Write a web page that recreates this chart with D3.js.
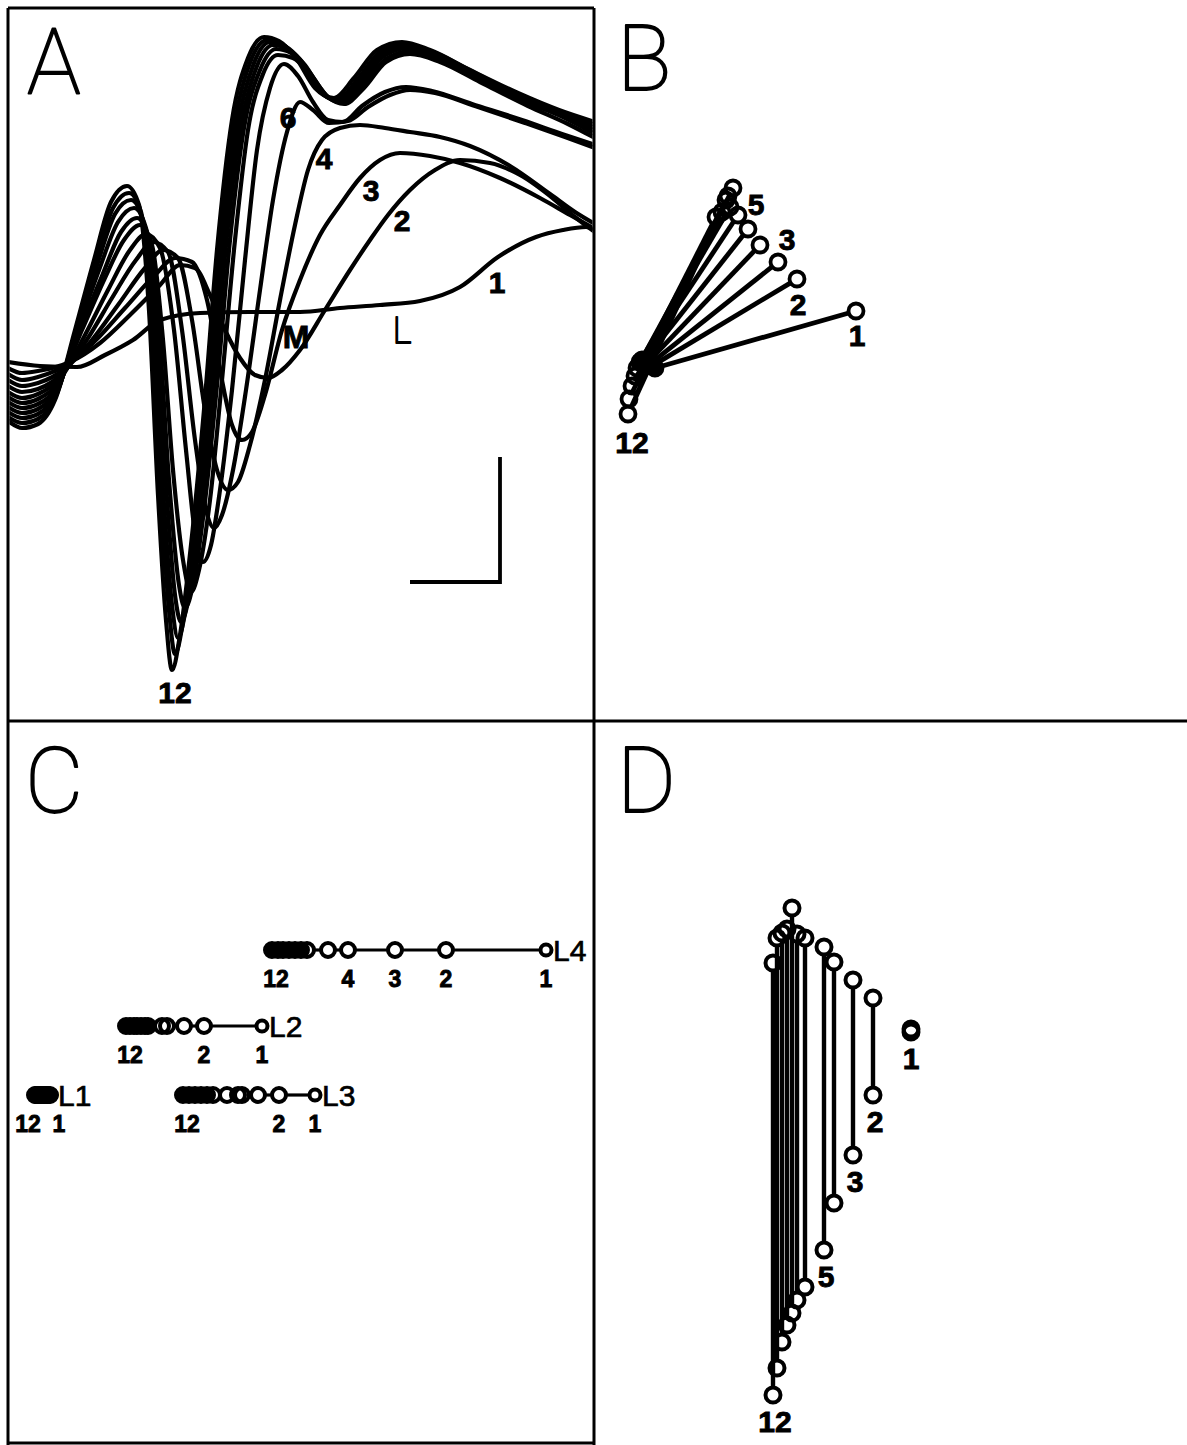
<!DOCTYPE html>
<html>
<head>
<meta charset="utf-8">
<script src="https://cdn.jsdelivr.net/npm/d3@7"></script>
<style>
  html, body { margin: 0; padding: 0; background: #fff; }
  svg { display: block; }
</style>
</head>
<body>
<svg id="fig" width="1187" height="1445"></svg>
<script>
// ---------------- data ----------------
// Response numbers, 1 (first) to 12 (last)
const responses = d3.range(1, 13);

// Panel A: averaged waveforms, [time (ms), amplitude (µV)]
const traceA1 = [[0,0.4],[0.64,-0.4],[1.38,-0.6],[1.94,1.8],[2.5,4.8],[3.04,8.8],[3.84,10.2],[4.84,10.4],[5.84,10.4],[6.64,11.2],[7.44,11.8],[8.24,12.6],[9.04,15.4],[9.8,21.4],[10.56,25.4],[11.1,26.8],[11.56,27.4],[11.74,26.8]];
const traceA2 = [[0,-0.8],[0.28,-1.8],[0.6,-1.4],[1.24,0.4],[1.84,4.2],[2.44,9.8],[3.04,15.8],[3.44,19.8],[3.74,19.2],[4.04,13.8],[4.34,6.8],[4.64,1.2],[4.94,-2.2],[5.2,-2.8],[5.48,-1.2],[5.84,2.8],[6.34,10.8],[6.84,18.8],[7.24,24.8],[7.6,29.8],[8.04,34.8],[8.54,38.8],[9.04,40.8],[9.64,40.2],[10.24,37.8],[10.94,32.8],[11.34,29.4],[11.74,26.4]];
const traceA3 = [[0,-2],[0.28,-3.2],[0.6,-2.6],[1.2,0],[1.76,4.8],[2.34,11.2],[2.94,17.8],[3.34,21.2],[3.68,20.4],[3.98,12.8],[4.24,-1.2],[4.48,-12.2],[4.68,-15.2],[4.88,-13.6],[5.14,-6.2],[5.48,6.8],[5.84,16.8],[6.24,25.8],[6.64,31.8],[7.04,37.2],[7.44,40.8],[7.84,42.2],[8.44,41.6],[9.04,40.2],[9.84,37.2],[10.64,33.2],[11.24,29.8],[11.74,27]];
const traceA4 = [[0,-3.2],[0.28,-4.4],[0.6,-3.8],[1.16,-0.8],[1.68,4.8],[2.2,11.8],[2.74,19.2],[3.1,22.8],[3.4,21.2],[3.68,8.8],[3.94,-9.2],[4.18,-21.2],[4.4,-25.2],[4.6,-23.6],[4.84,-16.2],[5.14,-3.2],[5.44,12.8],[5.74,27.8],[6,38.8],[6.28,44.8],[6.64,47.2],[7.04,47.8],[7.54,47.2],[8.04,46.4],[8.64,45.4],[9.24,43.6],[10.04,39.6],[10.84,34],[11.34,30.4],[11.74,28]];
const traceA5 = [[0,-4.4],[0.28,-5.6],[0.6,-5],[1.12,-1.6],[1.6,5.2],[2.08,13.2],[2.56,20.8],[2.9,24.4],[3.2,22.4],[3.48,6.8],[3.74,-15.2],[3.96,-29.2],[4.12,-32.8],[4.28,-30.2],[4.5,-21.2],[4.76,-5.2],[5.04,14.8],[5.3,32.8],[5.58,46.4],[5.84,52.4],[6.1,50.8],[6.42,48.2],[6.8,48.6],[7.2,51.4],[7.64,53.8],[8.04,54.8],[8.54,54.2],[9.34,51.6],[10.34,48.2],[11.14,45.4],[11.74,43.2]];
const traceA6 = [[0,-5.6],[0.28,-6.8],[0.6,-6],[1.08,-2.4],[1.54,5.8],[2,14.8],[2.44,22.8],[2.76,26],[3.04,23.2],[3.32,6.8],[3.56,-17.2],[3.76,-35.2],[3.9,-39.6],[4.06,-36.2],[4.24,-25.2],[4.48,-5.2],[4.74,20.8],[4.98,42.8],[5.24,55.2],[5.52,60],[5.8,57.6],[6.1,52.4],[6.4,48.8],[6.7,48.4],[7.08,51.6],[7.54,54.4],[7.96,55.4],[8.48,54.6],[9.28,52],[10.28,48.8],[11.08,46],[11.74,43.8]];
const traceA7 = [[0,-6.6],[0.28,-7.8],[0.6,-7],[1.04,-3.2],[1.48,6.8],[1.92,16.8],[2.32,24.8],[2.64,27.8],[2.88,23.8],[3.1,4.8],[3.3,-21.2],[3.5,-39.2],[3.66,-45.6],[3.82,-41.2],[4.04,-27.2],[4.28,-3.2],[4.54,24.8],[4.8,46.8],[5.1,58],[5.4,61.8],[5.7,61.2],[6.04,58],[6.4,53.4],[6.72,52],[7.12,55.2],[7.56,60.4],[8.04,62],[8.64,60.4],[9.44,56.4],[10.4,51.6],[11.2,48],[11.74,45.2]];
const traceA8 = [[0,-7.6],[0.28,-8.8],[0.6,-8],[1.02,-4],[1.44,6.8],[1.88,17.6],[2.26,26.4],[2.58,29.2],[2.82,25.2],[3.02,6.8],[3.22,-23.2],[3.42,-44.2],[3.54,-48.8],[3.7,-44.2],[3.92,-29.2],[4.18,-4.2],[4.44,24.8],[4.72,47.2],[5.04,58.8],[5.36,63],[5.66,62.2],[6,58.8],[6.38,53.6],[6.7,52.2],[7.1,55.8],[7.56,61],[8.06,62.6],[8.64,61],[9.44,57],[10.38,52.4],[11.18,49],[11.74,46]];
const traceA9 = [[0,-8.6],[0.28,-9.8],[0.6,-9],[1,-4.8],[1.4,6.8],[1.82,18.8],[2.2,28.4],[2.52,31.2],[2.76,27.2],[2.96,7.8],[3.16,-24.2],[3.34,-46.2],[3.46,-51.6],[3.62,-46.6],[3.84,-31.2],[4.1,-6.2],[4.36,23.8],[4.66,47.6],[4.98,59.6],[5.3,63.8],[5.6,63],[5.94,59.8],[6.32,54],[6.66,52.4],[7.06,56.2],[7.52,61.6],[8.02,63.2],[8.58,61.6],[9.38,57.6],[10.32,53],[11.14,49.6],[11.74,46.6]];
const traceA10 = [[0,-9.6],[0.28,-10.8],[0.6,-10],[0.98,-5.6],[1.38,6.8],[1.78,19.8],[2.14,30],[2.46,32.8],[2.7,28.8],[2.9,8.8],[3.1,-25.2],[3.28,-48.2],[3.4,-54.8],[3.56,-48.8],[3.78,-32.2],[4.04,-7.2],[4.3,23.8],[4.6,48],[4.92,60.2],[5.24,64.4],[5.54,63.6],[5.88,60.4],[6.26,54.4],[6.62,52.6],[7.02,56.6],[7.48,62],[7.98,63.6],[8.54,62],[9.34,58],[10.28,53.4],[11.1,50],[11.74,47.2]];
const traceA11 = [[0,-10.6],[0.28,-11.8],[0.6,-11],[0.96,-6.4],[1.36,6.8],[1.76,20.4],[2.1,31.2],[2.42,34.2],[2.66,30.4],[2.86,9.8],[3.06,-26.2],[3.22,-49.2],[3.34,-58],[3.5,-51.6],[3.72,-34.2],[3.98,-8.2],[4.24,23.8],[4.54,48.4],[4.86,60.8],[5.18,64.8],[5.48,64],[5.82,60.6],[6.2,54.8],[6.58,52.8],[6.98,56.8],[7.44,62.4],[7.94,64],[8.5,62.4],[9.3,58.4],[10.24,53.8],[11.06,50.4],[11.74,47.8]];
const traceA12 = [[0,-11.4],[0.28,-12.8],[0.6,-12],[0.94,-7.2],[1.34,6.8],[1.72,20.8],[2.06,32.4],[2.38,35.6],[2.62,31.8],[2.82,10.8],[3,-26.2],[3.16,-51.2],[3.28,-61.2],[3.44,-54.2],[3.66,-36.2],[3.92,-9.2],[4.18,22.8],[4.48,48.8],[4.8,61.2],[5.12,65.4],[5.42,64.6],[5.76,61.2],[6.14,55.2],[6.52,53.2],[6.92,57.2],[7.38,62.8],[7.88,64.4],[8.44,62.8],[9.24,58.8],[10.2,54.2],[11.02,50.8],[11.74,48.4]];
const tracesA = [traceA1, traceA2, traceA3, traceA4, traceA5, traceA6,
                 traceA7, traceA8, traceA9, traceA10, traceA11, traceA12];

// Calibration bar (ms, µV) and its corner
const calMs = 1.8, calUv = 25, calCornerT = 9.84, calCornerV = -43.6;

// Trace annotations placed in time/amplitude coordinates
const labelsA = [
  { text: "6", t: 5.6,  v: 49.4 },
  { text: "4", t: 6.32, v: 41.2 },
  { text: "3", t: 7.26, v: 34.8 },
  { text: "2", t: 7.88, v: 28.8 },
  { text: "1", t: 9.78, v: 16.4 }
];
const peakLabelsA = [
  { text: "M", t: 5.76, v: 5.6 },
  { text: "L", t: 7.88, v: 6.8 }
];

// Panel B: vector start (base) and end (tip) points per response
const bBaseX = [12, 11.4, 11, 10.6, 10, 9.4, 9, 8.4, 8, 7.4, 6.8, 6.6];
const bBaseY = [70.4, 70.8, 71.2, 71.6, 72, 72, 71.6, 70.4, 68.8, 66.8, 64.2, 61.2];
const bTipX  = [52.2, 40.4, 36.6, 33, 30.6, 28.6, 27, 25.4, 24.2, 26.2, 27.6, 26.6];
const bTipY  = [81.8, 88.2, 91.6, 95, 98.2, 101, 102.6, 101.6, 100.6, 104, 106.4, 104.8];

// Panel C: positions along each recording row, responses 1..12
const rowNames = ["L4", "L2", "L1", "L3"];
const rowLevels = [99, 83.8, 70, 70];
const cL4 = [107.6, 87.6, 77.4, 68, 64, 59.8, 58.6, 57.4, 56.2, 55, 54, 52.8];
const cL2 = [50.8, 39.2, 35.2, 31.8, 30.8, 28, 27.4, 26.6, 25.8, 25.2, 24.4, 23.6];
const cL1 = [8.6, 8.4, 8, 7.8, 7.4, 7.2, 6.8, 6.6, 6.2, 6, 5.6, 5.4];
const cL3 = [61.4, 54.2, 50, 46.8, 46, 43.8, 41, 39.8, 38.6, 37.4, 36.2, 35];
const rowsC = [cL4, cL2, cL1, cL3];
const rowTicksC = [[12, 4, 3, 2, 1], [12, 2, 1], [12, 1], [12, 2, 1]];

// Panel D: horizontal position, upper and lower values per response
const dX      = [63.2, 55.6, 51.6, 47.8, 45.8, 42, 40.4, 39.4, 38.4, 37.4, 36.4, 35.6];
const dTop    = [83.2, 89.4, 93, 96.6, 99.6, 101.4, 102.2, 107.4, 103.2, 102.4, 101.4, 96.4];
const dBottom = [82.6, 70, 58, 48.4, 39, 31.6, 29, 26.4, 24, 20.6, 15.4, 10];
const dTicks  = [1, 2, 3, 5, 12];

// ---------------- drawing ----------------
const W = 1187, H = 1445;
const svg = d3.select("#fig");
svg.append("rect").attr("width", W).attr("height", H).attr("fill", "#fff");

const INK = "#000";
const numFont = "'Liberation Sans', Arial, Helvetica, sans-serif";
const thinFont = "Roboto, Inter, 'DejaVu Sans', sans-serif";

// panel scales
const xA = d3.scaleLinear().domain([0, 11.74]).range([8, 595]);
const yA = d3.scaleLinear().domain([-71.2, 71.2]).range([720, 8]);
const xB = d3.scaleLinear().domain([0, 118.4]).range([595, 1187]);
const yB = d3.scaleLinear().domain([0, 142.4]).range([720, 8]);
const xC = d3.scaleLinear().domain([0, 117.4]).range([8, 595]);
const yC = d3.scaleLinear().domain([0, 144.6]).range([1445, 722]);
const xD = d3.scaleLinear().domain([0, 118.4]).range([595, 1187]);
const yD = d3.scaleLinear().domain([0, 144.6]).range([1445, 722]);

// segment between two circle centres, trimmed to the circle rims
function trimmed(x1, y1, x2, y2, r1, r2) {
  if (r2 === undefined) r2 = r1;
  const dx = x2 - x1, dy = y2 - y1, L = Math.hypot(dx, dy);
  if (L <= r1 + r2 + 1) return null;
  const ux = dx / L, uy = dy / L;
  return [x1 + ux * r1, y1 + uy * r1, x2 - ux * r2, y2 - uy * r2];
}
function drawSeg(g, s, w) {
  if (!s) return;
  g.append("line").attr("x1", s[0]).attr("y1", s[1]).attr("x2", s[2]).attr("y2", s[3])
    .attr("stroke", INK).attr("stroke-width", w).attr("stroke-linecap", "butt");
}
// open circle; tightly packed ones run together into solid ink
function ring(g, cx, cy, r, w, solid) {
  g.append("circle").attr("cx", cx).attr("cy", cy).attr("r", r)
    .attr("fill", solid ? INK : "none").attr("stroke", INK).attr("stroke-width", w);
}
function crowded(pts, i, thr, need) {
  let n = 0;
  pts.forEach((p, j) => { if (j !== i && Math.hypot(p[0] - pts[i][0], p[1] - pts[i][1]) < thr) n++; });
  return n >= need;
}
function num(g, text, x, y, size) {
  g.append("text").attr("x", x).attr("y", y).attr("dy", "0.36em")
    .attr("text-anchor", "middle").attr("font-family", numFont)
    .attr("font-weight", "bold").attr("font-size", size).attr("fill", INK)
    .attr("stroke", INK).attr("stroke-width", 0.9).text(text);
}
// thin single-stroke style lettering, slightly thickened
function thinText(g, text, x, y, size, anchor) {
  g.append("text").attr("x", x).attr("y", y)
    .attr("text-anchor", anchor || "start")
    .attr("font-family", thinFont).attr("font-weight", 100)
    .attr("font-size", size).attr("fill", INK)
    .attr("stroke", INK).attr("stroke-width", 1.8).attr("stroke-linejoin", "round")
    .text(text);
}

// frame and panel dividers
const frame = svg.append("g").attr("stroke", INK).attr("stroke-width", 3).attr("fill", "none");
frame.append("line").attr("x1", 8).attr("y1", 8).attr("x2", 8).attr("y2", H);
frame.append("line").attr("x1", 8).attr("y1", 8).attr("x2", 594).attr("y2", 8);
frame.append("line").attr("x1", 594).attr("y1", 8).attr("x2", 594).attr("y2", H);
frame.append("line").attr("x1", 8).attr("y1", 721).attr("x2", W).attr("y2", 721);
frame.append("line").attr("x1", 8).attr("y1", 1443).attr("x2", 594).attr("y2", 1443);

// ---- Panel A ----
svg.append("defs").append("clipPath").attr("id", "clipA")
  .append("rect").attr("x", 9.5).attr("y", 9.5).attr("width", 583).attr("height", 710);
const gA = svg.append("g").attr("clip-path", "url(#clipA)");
const traceLine = d3.line().x(d => xA(d[0])).y(d => yA(d[1])).curve(d3.curveMonotoneX);
gA.selectAll("path.trace").data(tracesA).join("path").attr("class", "trace")
  .attr("d", traceLine).attr("fill", "none").attr("stroke", INK)
  .attr("stroke-width", 4.2).attr("stroke-linejoin", "round");

// calibration bar
svg.append("path")
  .attr("d", `M${xA(calCornerT - calMs)},${yA(calCornerV)}H${xA(calCornerT)}V${yA(calCornerV + calUv)}`)
  .attr("fill", "none").attr("stroke", INK).attr("stroke-width", 3.8);

const gAL = svg.append("g");
labelsA.forEach(l => num(gAL, l.text, xA(l.t), yA(l.v), 30));
// label under the deepest trough of the last response
const last = tracesA[11];
const trough = last.reduce((a, b) => (b[1] < a[1] ? b : a));
num(gAL, "12", xA(trough[0]) + 3, yA(trough[1]) + 22, 30);
num(gAL, peakLabelsA[0].text, xA(peakLabelsA[0].t), yA(peakLabelsA[0].v), 32);
thinText(gAL, peakLabelsA[1].text, xA(peakLabelsA[1].t), yA(peakLabelsA[1].v) + 13, 36, "middle");

thinText(svg, "A", 27, 93, 90);

// ---- Panel B ----
const gB = svg.append("g");
const rB = 7.5;
const basePts = responses.map((k, i) => [xB(bBaseX[i]), yB(bBaseY[i])]);
const tipPts = responses.map((k, i) => [xB(bTipX[i]), yB(bTipY[i])]);
responses.forEach((k, i) => {
  drawSeg(gB, trimmed(basePts[i][0], basePts[i][1], tipPts[i][0], tipPts[i][1], rB), 4.8);
});
responses.forEach((k, i) => {
  ring(gB, basePts[i][0], basePts[i][1], rB, 3.8, crowded(basePts, i, 7, 2));
  ring(gB, tipPts[i][0], tipPts[i][1], rB, 3.8, false);
});
const labelsB = [
  { k: 1, end: "tip", dx: 1, dy: 24 },
  { k: 2, end: "tip", dx: 1, dy: 25 },
  { k: 3, end: "tip", dx: 9, dy: -23 },
  { k: 5, end: "tip", dx: 8, dy: -25 },
  { k: 12, end: "base", dx: 4, dy: 28 }
];
labelsB.forEach(l => {
  const i = l.k - 1;
  const p = l.end === "tip" ? tipPts[i] : basePts[i];
  num(gB, String(l.k), p[0] + l.dx, p[1] + l.dy, 30);
});
thinText(svg, "B", 617, 90, 90);

// ---- Panel C ----
const gC = svg.append("g");
const rC = 7, rC1 = 5.5;
rowsC.forEach((vals, ri) => {
  const cy = yC(rowLevels[ri]);
  const order = responses.map((k, i) => ({ k, x: xC(vals[i]), r: k === 1 ? rC1 : rC }))
    .sort((a, b) => a.x - b.x);
  for (let j = 0; j < order.length - 1; j++) {
    drawSeg(gC, trimmed(order[j].x, cy, order[j + 1].x, cy, order[j].r, order[j + 1].r), 3.2);
  }
  order.forEach((p, j) => {
    // a ring merges into the ink when both its neighbours sit within one radius
    const prev = j > 0 ? p.x - order[j - 1].x : null;
    const next = j < order.length - 1 ? order[j + 1].x - p.x : null;
    const close = d => d !== null && d < rC;
    const solid = (close(prev) || prev === null) && (close(next) || next === null) && (prev !== null || next !== null);
    ring(gC, p.x, cy, p.r, 4, solid);
  });
  // response numbers under the row
  rowTicksC[ri].forEach(k => {
    let dx = 0;
    if (rowNames[ri] === "L1") dx = k === 12 ? -7 : 8;
    else if (k === 12) dx = 4;
    num(gC, String(k), xC(vals[k - 1]) + dx, cy + 29, 23);
  });
  // row name to the right of response 1
  gC.append("text").attr("x", xC(vals[0]) + 7).attr("y", cy).attr("dy", "0.36em")
    .attr("font-family", numFont).attr("font-size", 30).attr("fill", INK)
    .attr("stroke", INK).attr("stroke-width", 0.7).text(rowNames[ri]);
});
thinText(svg, "C", 25, 812, 90);

// ---- Panel D ----
const gD = svg.append("g");
const rD = 7.5;
responses.forEach((k, i) => {
  const x = xD(dX[i]);
  drawSeg(gD, trimmed(x, yD(dTop[i]), x, yD(dBottom[i]), rD), 4.4);
});
responses.forEach((k, i) => {
  const x = xD(dX[i]);
  ring(gD, x, yD(dTop[i]), rD, 4, false);
  ring(gD, x, yD(dBottom[i]), rD, 4, false);
});
dTicks.forEach(k => {
  const i = k - 1;
  num(gD, String(k), xD(dX[i]) + (k === 1 ? 0 : 2), yD(dBottom[i]) + 26, 30);
});
thinText(svg, "D", 617, 812, 90);
</script>
</body>
</html>
